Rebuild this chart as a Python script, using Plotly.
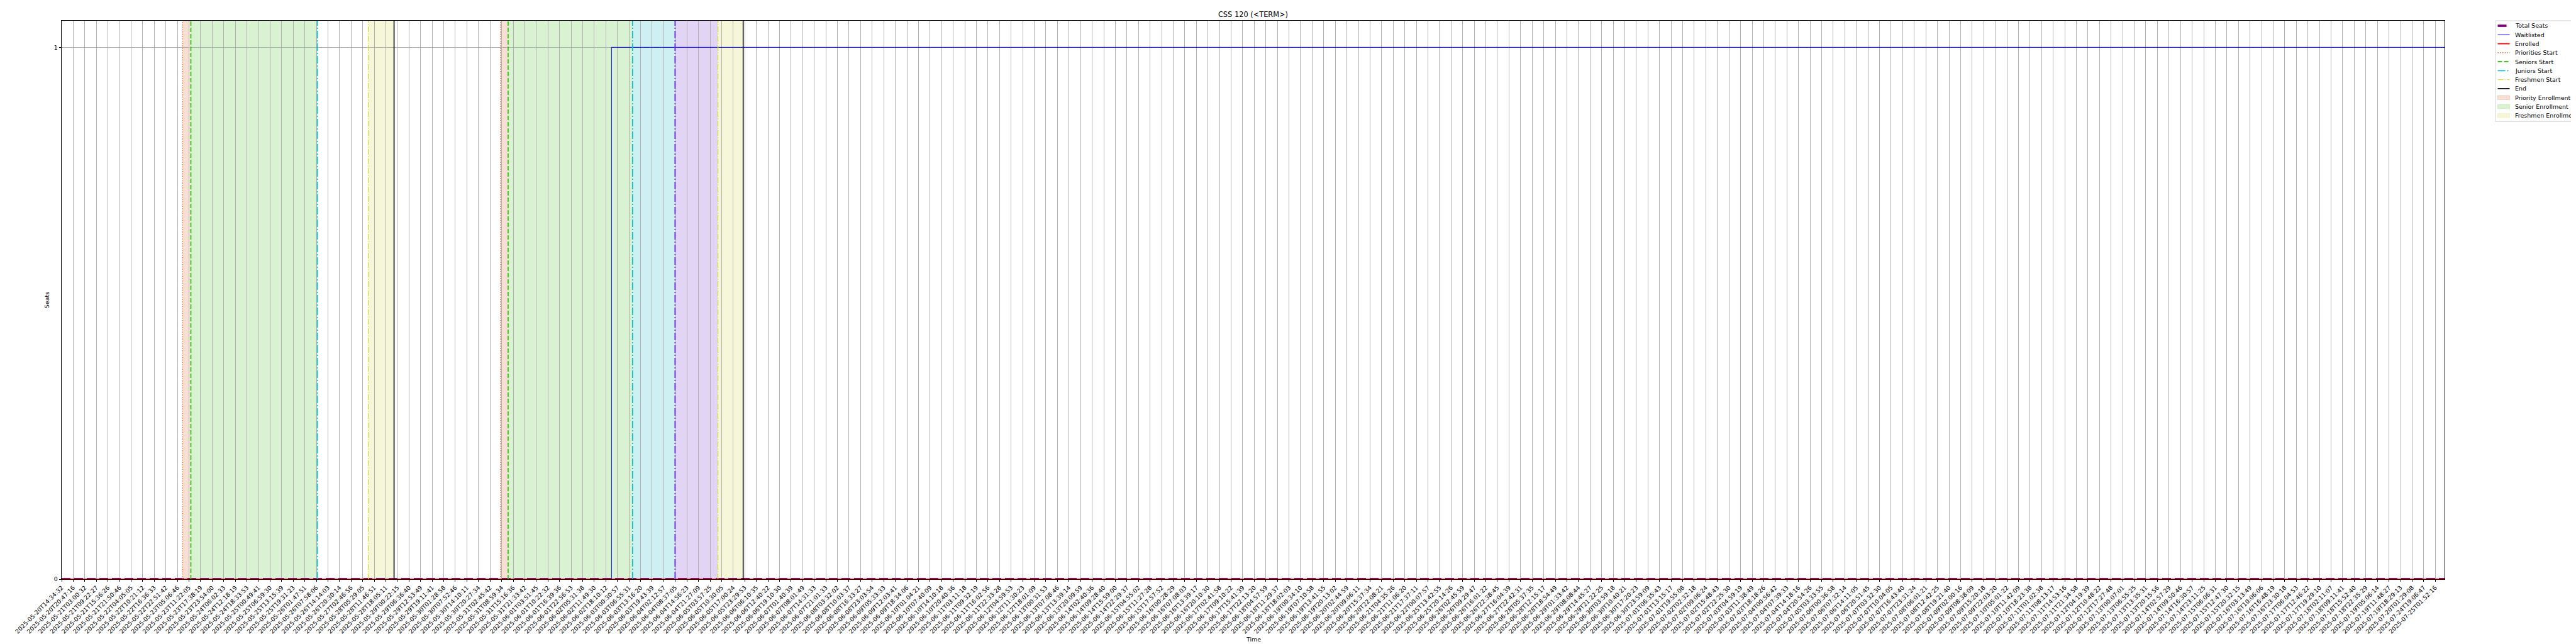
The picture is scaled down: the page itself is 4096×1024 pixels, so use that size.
import plotly.graph_objects as go

# ---------------- data ----------------
title_text = "CSS 120 (<TERM>)"
x_title = "Time"
y_title = "Seats"

tick_labels = [
    "2025-05-20T14:34:32", "2025-05-20T20:47:16", "2025-05-21T03:00:32", "2025-05-21T09:22:27",
    "2025-05-21T15:36:26", "2025-05-21T21:50:46", "2025-05-22T04:05:05", "2025-05-22T10:21:12",
    "2025-05-22T16:36:33", "2025-05-22T22:51:42", "2025-05-23T05:06:46", "2025-05-23T11:22:05",
    "2025-05-23T17:38:19", "2025-05-23T23:54:00", "2025-05-24T06:02:33", "2025-05-24T12:18:19",
    "2025-05-24T18:33:53", "2025-05-25T00:49:41", "2025-05-25T06:59:30", "2025-05-25T13:15:39",
    "2025-05-25T19:31:23", "2025-05-26T01:47:51", "2025-05-26T07:58:06", "2025-05-26T14:14:03",
    "2025-05-26T20:30:14", "2025-05-27T02:46:56", "2025-05-28T05:29:05", "2025-05-28T11:46:51",
    "2025-05-28T18:05:11", "2025-05-29T00:22:15", "2025-05-29T06:36:40", "2025-05-29T12:53:49",
    "2025-05-29T19:11:41", "2025-05-30T01:28:58", "2025-05-30T07:52:46", "2025-05-30T14:10:11",
    "2025-05-30T20:27:34", "2025-05-31T02:45:42", "2025-05-31T08:59:34", "2025-05-31T15:16:36",
    "2025-05-31T21:33:42", "2025-06-01T03:51:45", "2025-06-01T10:22:32", "2025-06-01T16:39:36",
    "2025-06-01T22:56:53", "2025-06-02T05:31:38", "2025-06-02T11:49:30", "2025-06-02T18:10:12",
    "2025-06-03T00:30:57", "2025-06-03T06:55:31", "2025-06-03T13:16:20", "2025-06-03T19:43:39",
    "2025-06-04T02:12:57", "2025-06-04T08:37:05", "2025-06-04T14:56:23", "2025-06-04T21:27:09",
    "2025-06-05T03:57:25", "2025-06-05T10:30:05", "2025-06-05T17:00:24", "2025-06-05T23:29:53",
    "2025-06-06T06:10:35", "2025-06-06T12:40:22", "2025-06-06T19:10:30", "2025-06-07T01:40:39",
    "2025-06-07T08:01:49", "2025-06-07T14:31:33", "2025-06-07T21:01:33", "2025-06-08T03:32:02",
    "2025-06-08T10:03:37", "2025-06-08T16:33:27", "2025-06-08T23:03:54", "2025-06-09T05:33:33",
    "2025-06-09T12:03:41", "2025-06-09T18:34:06", "2025-06-10T01:04:21", "2025-06-10T07:40:09",
    "2025-06-10T14:10:18", "2025-06-10T20:40:36", "2025-06-11T03:11:18", "2025-06-11T09:32:19",
    "2025-06-11T16:02:56", "2025-06-11T22:33:28", "2025-06-12T04:59:53", "2025-06-12T11:30:23",
    "2025-06-12T18:01:09", "2025-06-13T00:31:53", "2025-06-13T07:08:46", "2025-06-13T13:39:14",
    "2025-06-13T20:09:59", "2025-06-14T02:40:36", "2025-06-14T09:28:40", "2025-06-14T15:59:00",
    "2025-06-14T22:29:37", "2025-06-15T04:55:02", "2025-06-15T11:27:28", "2025-06-15T17:57:52",
    "2025-06-16T00:28:29", "2025-06-16T07:08:03", "2025-06-16T13:39:17", "2025-06-16T20:10:30",
    "2025-06-17T02:41:58", "2025-06-17T09:10:22", "2025-06-17T15:41:39", "2025-06-17T22:13:20",
    "2025-06-18T04:57:59", "2025-06-18T11:29:37", "2025-06-18T18:02:03", "2025-06-19T00:34:10",
    "2025-06-19T07:10:58", "2025-06-19T13:41:55", "2025-06-19T20:13:02", "2025-06-20T02:44:59",
    "2025-06-20T09:06:11", "2025-06-20T15:37:34", "2025-06-20T22:08:21", "2025-06-21T04:35:26",
    "2025-06-21T11:06:20", "2025-06-21T17:37:11", "2025-06-22T00:07:57", "2025-06-25T13:42:55",
    "2025-06-25T20:14:26", "2025-06-26T02:45:59", "2025-06-26T09:29:47", "2025-06-26T16:01:22",
    "2025-06-26T22:38:45", "2025-06-27T16:04:39", "2025-06-27T22:42:31", "2025-06-28T05:37:35",
    "2025-06-28T12:15:17", "2025-06-28T18:54:49", "2025-06-29T01:33:42", "2025-06-29T08:08:44",
    "2025-06-29T14:45:27", "2025-06-29T21:22:25", "2025-06-30T03:59:18", "2025-06-30T10:40:21",
    "2025-06-30T17:20:23", "2025-06-30T23:59:09", "2025-07-01T06:35:43", "2025-07-01T13:15:17",
    "2025-07-01T19:55:08", "2025-07-02T02:32:18", "2025-07-02T09:06:24", "2025-07-02T15:48:43",
    "2025-07-02T22:25:30", "2025-07-03T04:59:19", "2025-07-03T11:38:49", "2025-07-03T18:18:26",
    "2025-07-04T00:56:42", "2025-07-04T07:39:33", "2025-07-04T14:18:16", "2025-07-04T20:54:26",
    "2025-07-05T03:33:55", "2025-07-06T00:36:58", "2025-07-06T07:32:14", "2025-07-06T14:11:05",
    "2025-07-06T20:51:45", "2025-07-07T03:32:30", "2025-07-07T10:04:05", "2025-07-07T16:43:40",
    "2025-07-07T23:31:24", "2025-07-08T06:01:21", "2025-07-08T12:42:25", "2025-07-08T19:21:40",
    "2025-07-09T02:00:16", "2025-07-09T08:38:09", "2025-07-09T15:20:18", "2025-07-09T22:03:20",
    "2025-07-10T05:01:22", "2025-07-10T11:42:09", "2025-07-10T18:23:38", "2025-07-11T01:02:38",
    "2025-07-11T08:13:17", "2025-07-11T14:53:16", "2025-07-11T21:34:58", "2025-07-12T04:19:39",
    "2025-07-12T10:48:22", "2025-07-12T17:27:48", "2025-07-13T00:07:01", "2025-07-13T06:55:25",
    "2025-07-13T13:35:31", "2025-07-13T20:15:56", "2025-07-14T02:57:29", "2025-07-14T09:50:46",
    "2025-07-14T16:30:57", "2025-07-14T23:11:25", "2025-07-15T06:06:31", "2025-07-15T12:47:30",
    "2025-07-15T20:32:15", "2025-07-16T03:13:49", "2025-07-16T10:06:06", "2025-07-16T16:48:19",
    "2025-07-16T23:30:18", "2025-07-17T06:04:53", "2025-07-17T12:46:22", "2025-07-17T19:29:10",
    "2025-07-18T02:11:07", "2025-07-18T09:11:41", "2025-07-18T15:52:40", "2025-07-18T22:35:29",
    "2025-07-19T05:06:14", "2025-07-19T11:48:27", "2025-07-19T18:29:13", "2025-07-20T01:29:08",
    "2025-07-24T19:06:47", "2025-07-25T01:52:16",
]

# positions along the sample axis, in units of tick steps
x_first = 0.0
x_last = 205.8

total_seats_x = [x_first, x_last]
total_seats_y = [0, 0]
waitlisted_x = [x_first, 47.49, x_last]
waitlisted_y = [0, 1, 1]
enrolled_x = [x_first, x_last]
enrolled_y = [0, 0]

priorities_start = [10.45, 37.90]
seniors_start = [11.16, 38.56]
juniors_start = [22.08, 49.31]
sophomores_start = [52.98]
freshmen_start = [26.49, 56.68]
end_times = [28.71, 58.86]

priority_periods = [(10.45, 11.16), (37.90, 38.56)]
senior_periods = [(11.16, 22.08), (38.56, 49.31)]
junior_periods = [(49.31, 52.98)]
sophomore_periods = [(52.98, 56.68)]
freshmen_periods = [(26.49, 28.71), (56.68, 58.86)]

# ---------------- styling ----------------
S = 0.682
FONT = "DejaVu Sans"
fs_small = 13.9 * S
fs_title = 16.7 * S

W, H = 4096, 1024
plot_left = 131.6 * S
plot_right = (131.6 + 27.0 * x_last) * S
plot_top = 37.3 * S
plot_bottom = 1339.0 * S


def px_to_paper_x(px):
    return (px - plot_left) / (plot_right - plot_left)


def px_to_paper_y(py):
    return (plot_bottom - py) / (plot_bottom - plot_top)


line_styles = {
    "Total Seats": dict(color="purple", width=3.8, dash="14px,6px"),
    "Waitlisted": dict(color="blue", width=1.0, dash="solid"),
    "Enrolled": dict(color="red", width=1.9, dash="solid"),
    "Priorities Start": dict(color="#ec6a2a", width=1.4, dash="1.4px,2.3px"),
    "Seniors Start": dict(color="#3cc81e", width=1.9, dash="7px,3px"),
    "Juniors Start": dict(color="#17becf", width=1.9, dash="12px,3px,2px,3px"),
    "Sophomores Start": dict(color="#6a2ad8", width=1.9, dash="12px,3px,2px,3px"),
    "Freshmen Start": dict(color="#e0e038", width=1.4, dash="9px,2.3px,1.4px,2.3px"),
    "End": dict(color="black", width=1.6, dash="solid"),
}
span_styles = {
    "Priority Enrollment": dict(fill="#f6dfd3", edge="#efc5b0"),
    "Senior Enrollment": dict(fill="#d9f3d2", edge="#bbe9ae"),
    "Junior Enrollment": dict(fill="#cff0f2", edge="#b0e6ea"),
    "Sophomore Enrollment": dict(fill="#e1d4f5", edge="#cbb6ee"),
    "Freshmen Enrollment": dict(fill="#f6f7d8", edge="#eff1b9"),
}

legend_order = ["Total Seats", "Waitlisted", "Enrolled", "Priorities Start", "Seniors Start",
                "Juniors Start", "Freshmen Start", "End", "Priority Enrollment",
                "Senior Enrollment", "Freshmen Enrollment"]

fig = go.Figure()

for name, xs, ys in [("Total Seats", total_seats_x, total_seats_y),
                     ("Waitlisted", waitlisted_x, waitlisted_y),
                     ("Enrolled", enrolled_x, enrolled_y)]:
    st = line_styles[name]
    fig.add_trace(go.Scatter(x=xs, y=ys, mode="lines", name=name, showlegend=False,
                             line=dict(color=st["color"], width=st["width"], dash=st["dash"],
                                       shape="hv")))

shapes = []
for name, periods in [("Priority Enrollment", priority_periods),
                      ("Senior Enrollment", senior_periods),
                      ("Junior Enrollment", junior_periods),
                      ("Sophomore Enrollment", sophomore_periods),
                      ("Freshmen Enrollment", freshmen_periods)]:
    for a, b in periods:
        shapes.append(dict(type="rect", xref="x", yref="paper", x0=a, x1=b, y0=0, y1=1,
                           fillcolor=span_styles[name]["fill"], line=dict(width=0), layer="below"))

for name, xs in [("Priorities Start", priorities_start), ("Seniors Start", seniors_start),
                 ("Juniors Start", juniors_start), ("Sophomores Start", sophomores_start),
                 ("Freshmen Start", freshmen_start), ("End", end_times)]:
    st = line_styles[name]
    for xv in xs:
        shapes.append(dict(type="line", xref="x", yref="paper", x0=xv, x1=xv, y0=0, y1=1,
                           line=dict(color=st["color"], width=st["width"], dash=st["dash"]),
                           layer="above"))

# ---------- legend (drawn to match the reference's compact layout) ----------
box_left, box_right = 3960.2, 4110.0
box_top, box_bottom = 25.4, 185.7
row0, row_step = 33.4, 14.27
handle_x0, handle_x1 = 3963.9, 3982.9
text_x = 3990.3
patch_h = 6.6

shapes.append(dict(type="rect", xref="paper", yref="paper",
                   x0=px_to_paper_x(box_left), x1=px_to_paper_x(box_right),
                   y0=px_to_paper_y(box_bottom), y1=px_to_paper_y(box_top),
                   fillcolor="white", line=dict(color="#cccccc", width=0.8), layer="above"))

annotations = []
for i, name in enumerate(legend_order):
    cy = row0 + i * row_step
    if name in line_styles:
        st = line_styles[name]
        shapes.append(dict(type="line", xref="paper", yref="paper",
                           x0=px_to_paper_x(handle_x0), x1=px_to_paper_x(handle_x1),
                           y0=px_to_paper_y(cy), y1=px_to_paper_y(cy),
                           line=dict(color=st["color"], width=st["width"], dash=st["dash"]),
                           layer="above"))
    else:
        st = span_styles[name]
        shapes.append(dict(type="rect", xref="paper", yref="paper",
                           x0=px_to_paper_x(handle_x0), x1=px_to_paper_x(handle_x1),
                           y0=px_to_paper_y(cy + patch_h / 2), y1=px_to_paper_y(cy - patch_h / 2),
                           fillcolor=st["fill"], line=dict(color=st["edge"], width=0.7),
                           layer="above"))
    annotations.append(dict(text=name, xref="paper", yref="paper",
                            x=px_to_paper_x(text_x), y=px_to_paper_y(cy),
                            xanchor="left", yanchor="middle", showarrow=False, borderpad=0,
                            font=dict(family=FONT, size=fs_small, color="black")))

time_label_center_px = 1009
annotations.append(dict(text=x_title, xref="paper", yref="paper", x=0.5,
                        y=px_to_paper_y(time_label_center_px),
                        xanchor="center", yanchor="middle", showarrow=False,
                        font=dict(family=FONT, size=fs_small, color="black")))

axis_common = dict(
    showgrid=True, gridcolor="#b0b0b0", gridwidth=0.8,
    ticks="outside", ticklen=3.4, tickwidth=0.8, tickcolor="black",
    showline=True, linecolor="black", linewidth=0.8, mirror=True,
    zeroline=False, tickfont=dict(family=FONT, size=fs_small, color="black"),
)

fig.update_layout(
    width=W, height=H,
    margin=dict(l=plot_left, r=W - plot_right, t=plot_top, b=H - plot_bottom, autoexpand=False),
    paper_bgcolor="white", plot_bgcolor="white",
    font=dict(family=FONT, size=fs_small, color="black"),
    shapes=shapes,
    annotations=annotations,
    showlegend=False,
    title=dict(text=title_text, x=0.5, xref="paper", xanchor="center",
               y=1, yref="paper", yanchor="bottom", pad=dict(b=5.6),
               font=dict(family=FONT, size=fs_title, color="black")),
    xaxis=dict(range=[x_first, x_last], tickmode="array",
               tickvals=list(range(len(tick_labels))), ticktext=tick_labels,
               tickangle=-45, **axis_common),
    yaxis=dict(range=[0, 1.05], tickmode="array", tickvals=[0, 1], ticktext=["0", "1"],
               title=dict(text=y_title, standoff=5, font=dict(family=FONT, size=fs_small)),
               **axis_common),
)

fig.write_html("out.html")
